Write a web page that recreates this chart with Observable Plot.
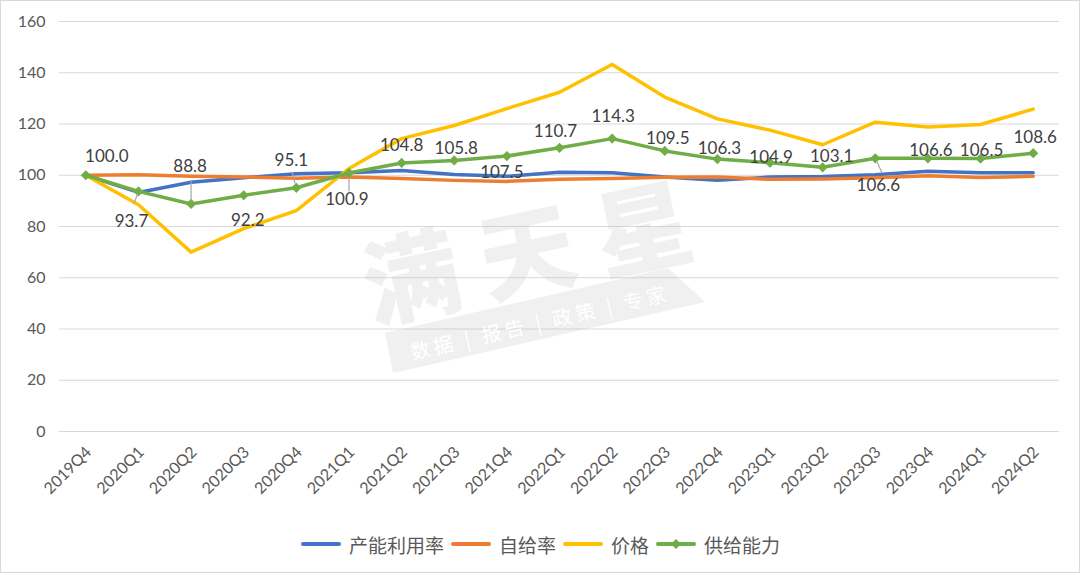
<!DOCTYPE html>
<html>
<head>
<meta charset="utf-8">
<script src="https://cdn.jsdelivr.net/npm/d3@7"></script>
<script src="https://cdn.jsdelivr.net/npm/@observablehq/plot@0.6"></script>
<style>
  html, body { margin: 0; padding: 0; background: #fff; }
  #wrap { position: relative; width: 1080px; height: 573px; overflow: hidden; background: #fff;
          font-family: Lato, "Noto Sans CJK SC", sans-serif; }
  #frame { position: absolute; left: 0; top: 0; width: 1080px; height: 573px; box-sizing: border-box;
           border: 1px solid #d9d9d9; pointer-events: none; }
  #legend { position: absolute; left: 0; top: 515px; width: 1080px; height: 58px; display: flex;
            justify-content: center; align-items: center; font-family: "Noto Sans CJK SC", sans-serif;
            font-size: 19px; color: #595959; }
  .item { display: flex; align-items: center; margin: 0 3px; }
  .item svg { margin-right: 7px; }
  #wm { position: absolute; left: 0; top: 0; pointer-events: none; }
</style>
</head>
<body>
<div id="wrap">
  <div id="chart"></div>
  <div id="legend"></div>
  <svg id="wm" width="1080" height="573"></svg>
  <div id="frame"></div>
</div>
<script>
// ---- data ----
const quarters = ["2019Q4","2020Q1","2020Q2","2020Q3","2020Q4","2021Q1","2021Q2","2021Q3","2021Q4",
  "2022Q1","2022Q2","2022Q3","2022Q4","2023Q1","2023Q2","2023Q3","2023Q4","2024Q1","2024Q2"];
const utilization = [100, 93.3, 97.3, 99.0, 100.6, 101.0, 101.9, 100.3, 99.6, 101.2, 101.0, 99.3, 98.0, 99.3, 99.5, 100.2, 101.6, 101.0, 101.0];
const selfSufficiency = [100, 100.2, 99.6, 99.3, 98.8, 99.3, 98.7, 98.0, 97.6, 98.4, 98.7, 99.2, 99.3, 98.4, 98.5, 99.0, 99.8, 99.1, 99.6];
const price = [100, 88.5, 70.0, 79.2, 86.2, 102.6, 114.3, 119.4, 126.0, 132.4, 143.2, 130.5, 122.0, 117.6, 111.9, 120.7, 118.8, 119.8, 125.8];
const supply = [100.0, 93.7, 88.8, 92.2, 95.1, 100.9, 104.8, 105.8, 107.5, 110.7, 114.3, 109.5, 106.3, 104.9, 103.1, 106.6, 106.6, 106.5, 108.6];
const seriesNames = ["产能利用率", "自给率", "价格", "供给能力"];
const yTicks = [0, 20, 40, 60, 80, 100, 120, 140, 160];

// ---- layout of the data labels (pixel offsets from each green point) ----
const labelOffsets = [[21,-19],[-7,30],[-1,-37],[4,25],[-5,-27],[-2,27],[0,-17],[2,-12],[-5,17],
  [-4,-16],[1,-22],[3,-12],[2,-11],[1,-5],[9,-11],[3,27],[3,-8],[1,-8],[2,-16]];
// leader lines: [index, rotate (deg, clockwise from up), start px, end px]
const leaders = [[1,200,3,13],[2,0,4,23],[4,-15,5,15],[5,180,5,18],[15,155,4,16]];

const colors = ["#4472C4", "#ED7D31", "#FFC000", "#70AD47"];
const rows = (vals) => quarters.map((q, i) => ({q, v: vals[i], i}));
const supplyRows = rows(supply);

const marks = [
  Plot.gridY(yTicks, {stroke: "#d9d9d9", strokeOpacity: 1, strokeWidth: 1}),
  Plot.axisY({ticks: yTicks, tickSize: 0, tickPadding: 14, fontSize: 16, label: null}),
  Plot.axisX({tickSize: 0, tickPadding: 18, dx: 3, tickRotate: -45, fontSize: 16, label: null}),
  Plot.line(rows(utilization), {x: "q", y: "v", stroke: colors[0], strokeWidth: 3.5}),
  Plot.line(rows(selfSufficiency), {x: "q", y: "v", stroke: colors[1], strokeWidth: 3.5}),
  Plot.line(rows(price), {x: "q", y: "v", stroke: colors[2], strokeWidth: 3.5}),
  Plot.line(supplyRows, {x: "q", y: "v", stroke: colors[3], strokeWidth: 3.5}),
  Plot.dot(supplyRows, {x: "q", y: "v", symbol: "diamond2", r: 4.6, fill: colors[3], stroke: "none"}),
  ...leaders.map(([idx, rot, s, e]) =>
    Plot.vector([supplyRows[idx]], {x: "q", y: "v", rotate: rot, length: e, anchor: "start",
      stroke: "#a6a6a6", strokeWidth: 1.2,
      shape: {draw(context, l) { context.moveTo(0, -s); context.lineTo(0, -l); }}})),
  ...supplyRows.map((d, i) =>
    Plot.text([d], {x: "q", y: "v", text: (r) => r.v.toFixed(1), dx: labelOffsets[i][0], dy: labelOffsets[i][1],
      fontSize: 17, fill: "#404040"}))
];

const chart = Plot.plot({
  width: 1080,
  height: 515,
  marginLeft: 59,
  marginRight: 21,
  marginTop: 21,
  marginBottom: 84,
  style: {fontFamily: 'Lato, "Noto Sans CJK SC", sans-serif', color: "#595959", background: "transparent"},
  x: {type: "point", domain: quarters, padding: 0.5, round: false},
  y: {domain: [0, 160]},
  marks
});
document.getElementById("chart").appendChild(chart);

// ---- legend ----
const legend = d3.select("#legend");
seriesNames.forEach((name, i) => {
  const it = legend.append("div").attr("class", "item");
  const sw = it.append("svg").attr("width", 42).attr("height", 14);
  sw.append("line").attr("x1", 3).attr("x2", 39).attr("y1", 7).attr("y2", 7)
    .attr("stroke", colors[i]).attr("stroke-width", 4).attr("stroke-linecap", "round");
  if (i === 3) sw.append("path").attr("d", d3.symbol(d3.symbolDiamond2, 64)()).attr("transform", "translate(21,7)").attr("fill", colors[i]);
  it.append("span").text(name);
});

// ---- watermark ----
const wm = d3.select("#wm").append("g").attr("opacity", 0.22);
const wmChars = [["满", 410, 272], ["天", 526, 247], ["星", 642, 224]];
wmChars.forEach(([c, x, y]) => {
  wm.append("text").attr("x", x).attr("y", y).attr("text-anchor", "middle").attr("dominant-baseline", "central")
    .attr("transform", `rotate(-12 ${x} ${y})`).attr("font-family", '"Noto Sans CJK SC"').attr("font-weight", 900)
    .attr("font-size", 96).attr("fill", "#bdbdbd").text(c);
});
wm.append("polygon").attr("points", "385,333 668,268 705,302 393,373").attr("fill", "#bdbdbd");
d3.select("#wm").append("text").attr("x", 538).attr("y", 322).attr("text-anchor", "middle")
  .attr("dominant-baseline", "central").attr("transform", "rotate(-13 538 322)")
  .attr("font-family", '"Noto Sans CJK SC"').attr("font-size", 20).attr("fill", "#ffffff")
  .attr("textLength", 262).attr("lengthAdjust", "spacing").text("数据 | 报告 | 政策 | 专家");
</script>
</body>
</html>
